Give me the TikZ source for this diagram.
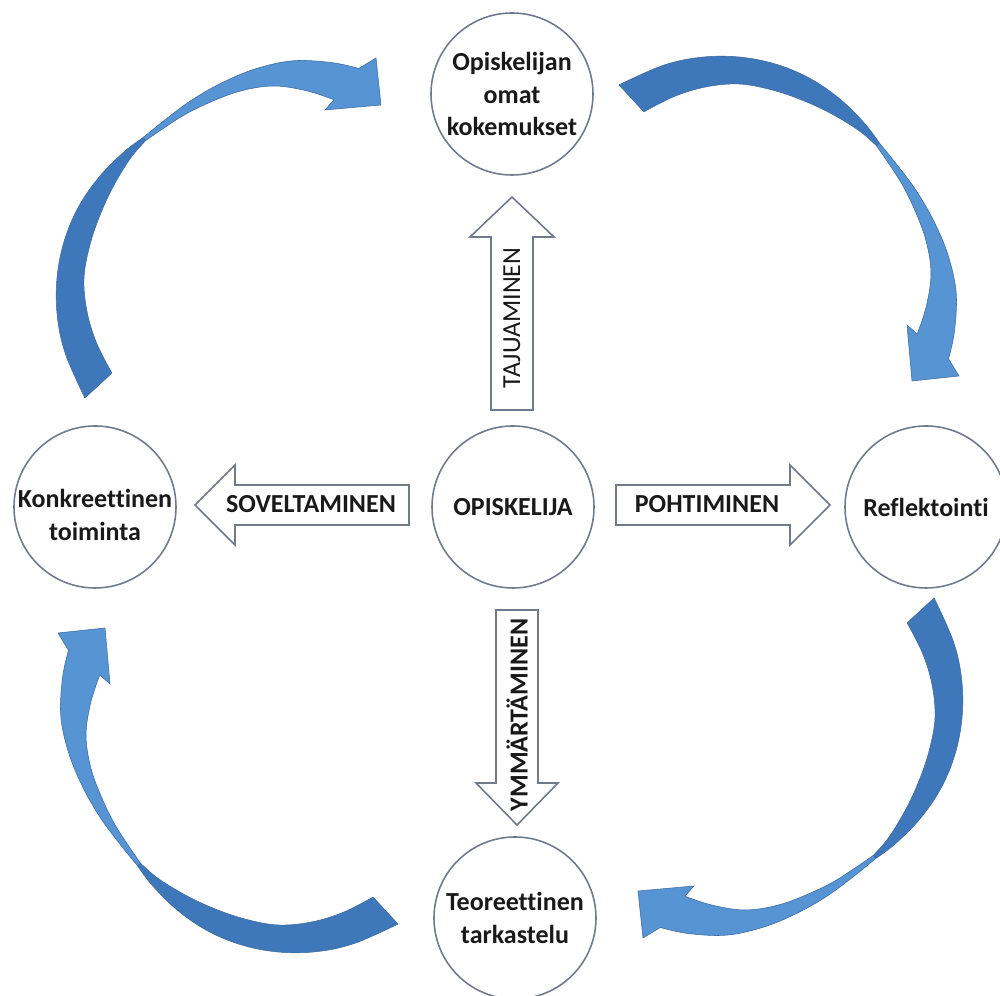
\documentclass[tikz,border=0pt]{standalone}
\usepackage{fontspec}
\setmainfont{Carlito}[Ligatures=NoCommon]
\definecolor{cgray}{RGB}{112,122,138}
\definecolor{ribdark}{RGB}{63,120,186}
\definecolor{riblight}{RGB}{86,148,212}
\definecolor{ribline}{RGB}{60,105,160}
\newcommand\lblfont{\fontsize{7.4}{9.2}\selectfont\bfseries}
\newcommand\regfont{\fontsize{7.4}{9.2}\selectfont}
\newcommand\ribbon{%
 \filldraw[fill=ribdark,draw=ribline,line width=0.15pt] plot[smooth,tension=0.6] coordinates {(84.9,398)(65.4,353.9)(57.3,316.2)(57,278)(64.2,241)(78.5,206.9)(99.1,177)(123.9,152)(143.1,137.6)} -- plot[smooth,tension=0.6] coordinates {(145.8,140.5)(130.8,157.8)(113.8,185.5)(100.2,214.7)(89.8,245.5)(84,278)(86.9,311)(96.4,342.6)(111.9,373.1)} -- cycle;
 \filldraw[fill=riblight,draw=ribline,line width=0.15pt] plot[smooth,tension=0.6] coordinates {(143.1,137.6)(163.9,120.7)(191.2,100.4)(221.7,82.9)(255.7,68.8)(293,60.8)(331.7,62.6)(358.7,68.5)} -- (376,58) -- (381,105) -- (325,110) -- plot[smooth,tension=0.6] coordinates {(334,99.8)(307,90.9)(274,86)(241,90.9)(210,102.3)(181,116.9)(145.8,140.5)} -- cycle;
}
\begin{document}
\begin{tikzpicture}[x=0.1mm,y=-0.1mm,
  circ/.style={circle, draw=cgray, line width=0.45pt, minimum size=16.2mm, inner sep=0pt, fill=white, align=center, font=\lblfont, text=black!90},
  blk/.style={draw=cgray, line width=0.45pt, fill=white, line join=miter},
  lbl/.style={font=\lblfont, text=black!90, inner sep=0pt, align=center}]
\useasboundingbox[fill=white] (0,0) rectangle (1000,996);

% curved arrows
\ribbon
\begin{scope}[shift={(-2,5)}]\begin{scope}[rotate around={-90:(512,507)}]\ribbon\end{scope}\end{scope}
\begin{scope}[shift={(-5,-18)}]\begin{scope}[rotate around={180:(512,507)}]\ribbon\end{scope}\end{scope}
\begin{scope}[shift={(-5,-10)}]\begin{scope}[rotate around={90:(512,507)}]\ribbon\end{scope}\end{scope}

% circles
\node[circ] (top) at (512,94) {Opiskelijan\\omat\\kokemukset};
\node[circ] (left) at (95,507) {};
\node[lbl] (lefttext) at (95,515) {Konkreettinen\\toiminta};
\node[circ] (mid) at (513,507) {OPISKELIJA};
\node[circ] (right) at (926,507) {Reflektointi};
\node[circ] (bottom) at (515,918) {Teoreettinen\\tarkastelu};

% block arrows
\draw[blk] (491,410) -- (491,237) -- (470,237) -- (512,197) -- (554,237) -- (533,237) -- (533,410) -- cycle;
\draw[blk] (496,610) -- (496,783) -- (476,783) -- (517,825) -- (558,783) -- (538,783) -- (538,610) -- cycle;
\draw[blk] (409,485) -- (235,485) -- (235,465) -- (195,505) -- (235,545) -- (235,525) -- (409,525) -- cycle;
\draw[blk] (616,485) -- (790,485) -- (790,465) -- (830,505) -- (790,545) -- (790,525) -- (616,525) -- cycle;

\node[lbl, rotate=90, font=\regfont] (taju) at (512,318) {TAJUAMINEN};
\node[lbl, rotate=90] (ymm) at (517,715) {YMMÄRTÄMINEN};
\node[lbl] (sov) at (311,504) {SOVELTAMINEN};
\node[lbl] (poh) at (707,504) {POHTIMINEN};
\end{tikzpicture}
\end{document}
